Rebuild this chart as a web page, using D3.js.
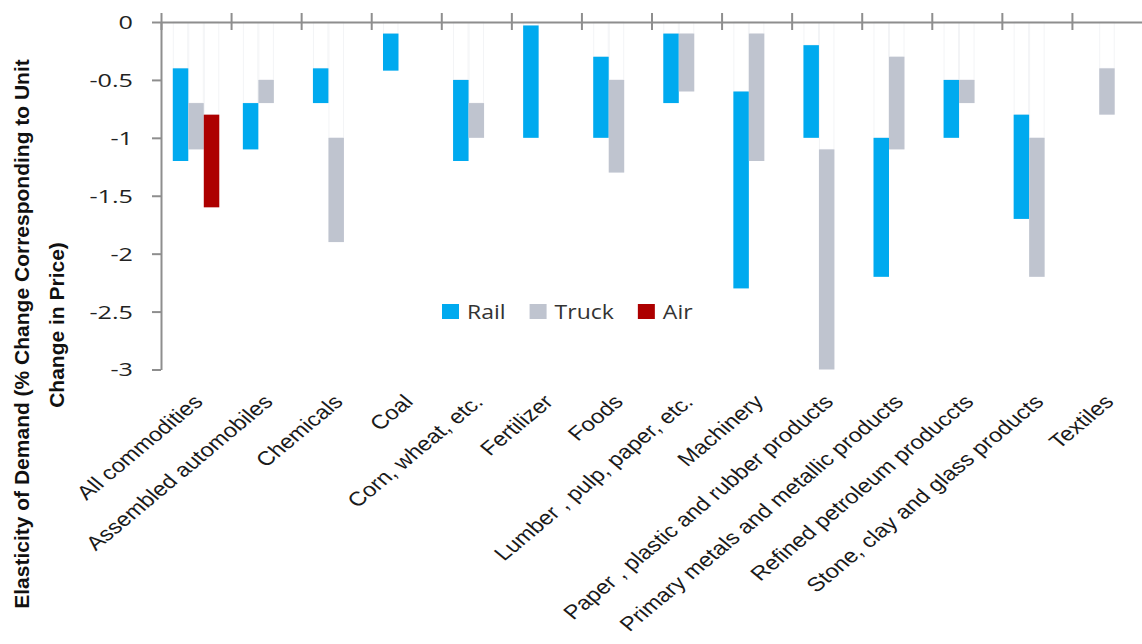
<!DOCTYPE html>
<html>
<head>
<meta charset="utf-8">
<script src="https://cdn.jsdelivr.net/npm/d3@7"></script>
<style>
  html, body { margin: 0; padding: 0; background: #ffffff; }
  svg { display: block; }
</style>
</head>
<body>
<svg id="chart" width="1142" height="644"></svg>
<script>
const categories = [
  "All commodities", "Assembled automobiles", "Chemicals", "Coal",
  "Corn, wheat, etc.", "Fertilizer", "Foods", "Lumber , pulp, paper, etc.",
  "Machinery", "Paper , plastic and rubber products",
  "Primary metals and metallic products", "Refined petroleum produccts",
  "Stone, clay and glass products", "Textiles"
];
const series = ["Rail", "Truck", "Air"];
const seriesColors = ["#00AAEF", "#BFC4CF", "#AD0000"];
// upper (less negative) and lower ends of each range bar
const railHigh  = [-0.4, -0.7, -0.4, -0.1, -0.5, -0.03, -0.3, -0.1, -0.6, -0.2, -1.0, -0.5, -0.8, null];
const railLow   = [-1.2, -1.1, -0.7, -0.42, -1.2, -1.0, -1.0, -0.7, -2.3, -1.0, -2.2, -1.0, -1.7, null];
const truckHigh = [-0.7, -0.5, -1.0, null, -0.7, null, -0.5, -0.1, -0.1, -1.1, -0.3, -0.5, -1.0, -0.4];
const truckLow  = [-1.1, -0.7, -1.9, null, -1.0, null, -1.3, -0.6, -1.2, -3.0, -1.1, -0.7, -2.2, -0.8];
const airHigh   = [-0.8, null, null, null, null, null, null, null, null, null, null, null, null, null];
const airLow    = [-1.6, null, null, null, null, null, null, null, null, null, null, null, null, null];
const yTicks = [0, -0.5, -1, -1.5, -2, -2.5, -3];
const yTickLabels = ["0", "-0.5", "-1", "-1.5", "-2", "-2.5", "-3"];
const yTitleLines = ["Elasticity of Demand (% Change Corresponding to Unit", "Change in Price)"];

const highs = [railHigh, truckHigh, airHigh];
const lows = [railLow, truckLow, airLow];

const svg = d3.select("#chart");
const axisColor = "#8E8E8E";
const plotLeft = 161, plotRight = 1142, plotTop = 22, plotBottom = 369.5;

const x0 = d3.scaleBand().domain(categories).range([plotLeft, plotRight]).paddingInner(0).paddingOuter(0);
const x1 = d3.scaleBand().domain(series).range([0, x0.bandwidth()]).paddingInner(0).paddingOuter(0.76);
const y = d3.scaleLinear().domain([-3, 0]).range([plotBottom, plotTop]);

const bars = [];
categories.forEach((c, i) => {
  series.forEach((s, k) => {
    const hi = highs[k][i], lo = lows[k][i];
    if (hi !== null && lo !== null) bars.push({cat: c, s, k, hi, lo});
  });
});

// faint base outlines (invisible base series)
svg.append("g").selectAll("rect").data(bars).join("rect")
  .attr("x", d => x0(d.cat) + x1(d.s) + 0.5)
  .attr("y", y(0))
  .attr("width", x1.bandwidth() - 1)
  .attr("height", d => Math.max(0, y(d.hi) - y(0)))
  .attr("fill", "none")
  .attr("stroke", "#f3f4f6")
  .attr("stroke-width", 1);

// range bars
svg.append("g").selectAll("rect").data(bars).join("rect")
  .attr("x", d => x0(d.cat) + x1(d.s))
  .attr("y", d => y(d.hi))
  .attr("width", x1.bandwidth())
  .attr("height", d => y(d.lo) - y(d.hi))
  .attr("fill", d => seriesColors[d.k]);

// y axis
const yAxis = d3.axisLeft(y).tickValues(yTicks).tickSize(9).tickSizeOuter(0)
  .tickFormat((d, i) => yTickLabels[i]);
const gy = svg.append("g").attr("transform", `translate(${plotLeft},0)`).call(yAxis);
gy.select(".domain").attr("stroke", axisColor).attr("stroke-width", 2);
gy.selectAll(".tick line").attr("stroke", axisColor).attr("stroke-width", 2);
gy.selectAll(".tick text")
  .attr("x", 0)
  .attr("dy", "0.35em")
  .attr("transform", "translate(-28,0) scale(1.36,1)")
  .attr("fill", "#222")
  .style("font-family", "'Open Sans', 'Noto Sans', sans-serif")
  .style("font-size", "18.5px")
  .attr("text-anchor", "end");

// x axis at zero (top) with crossing ticks at category boundaries
const xb = d3.scaleLinear().domain([0, categories.length]).range([plotLeft, plotRight]);
const xAxis = d3.axisTop(xb).tickValues(d3.range(0, categories.length)).tickSize(8).tickSizeOuter(0).tickFormat("");
const gx = svg.append("g").attr("transform", `translate(0,${y(0)})`).call(xAxis);
gx.select(".domain").attr("stroke", axisColor).attr("stroke-width", 2);
gx.selectAll(".tick line").attr("stroke", axisColor).attr("stroke-width", 2).attr("y1", 8).attr("y2", -9);

// category labels
svg.append("g").selectAll("text").data(categories).join("text")
  .attr("text-anchor", "end")
  .attr("transform", d => `translate(${x0(d) + x0.bandwidth() / 2 + 8},403) scale(1.2,1) rotate(-45)`)
  .attr("fill", "#1a1a1a")
  .style("font-family", "'Liberation Sans', Arial, sans-serif")
  .style("font-size", "19.8px")
  .text(d => d);

// y title
const yTitleX = [29, 64];
const yTitleY = [334, 325];
svg.append("g").selectAll("text").data(yTitleLines).join("text")
  .attr("text-anchor", "middle")
  .attr("transform", (d, i) => `translate(${yTitleX[i]},${yTitleY[i]}) rotate(-90)`)
  .attr("fill", "#111")
  .style("font-family", "'Liberation Sans', Arial, sans-serif")
  .style("font-weight", "bold")
  .style("font-size", "21px")
  .text(d => d);

// legend
const legend = svg.append("g");
let lx = 442;
const legStretch = 1.15;
series.forEach((s, k) => {
  legend.append("rect").attr("x", lx).attr("y", 304).attr("width", 17).attr("height", 15)
    .attr("fill", seriesColors[k]);
  const t = legend.append("text")
    .attr("transform", `translate(${lx + 25},319) scale(${legStretch},1)`)
    .attr("fill", "#333")
    .style("font-family", "'Open Sans', 'Noto Sans', sans-serif")
    .style("font-size", "20px")
    .text(s);
  const w = t.node().getComputedTextLength() * legStretch;
  lx = lx + 25 + w + 24;
});
</script>
</body>
</html>
